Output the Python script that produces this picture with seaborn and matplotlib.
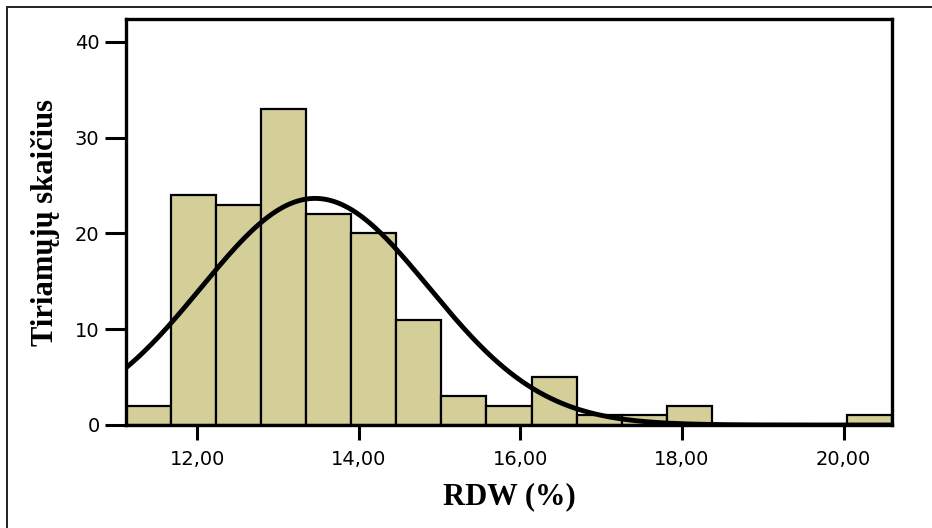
import numpy as np
import pandas as pd
import matplotlib
matplotlib.use("Agg")
import matplotlib.pyplot as plt
from matplotlib.lines import Line2D
import seaborn as sns

# Histogram of RDW (%) values: counts per bin
bin_counts = [2, 24, 23, 33, 22, 20, 11, 3, 2, 5, 1, 1, 2, 0, 0, 0, 1]
rdw_min = 11.12
rdw_max = 20.60

# Fitted normal distribution parameters
rdw_mean = 13.46
rdw_sd = 1.41

x_ticks = [12, 14, 16, 18, 20]
x_tick_labels = ["12,00", "14,00", "16,00", "18,00", "20,00"]
y_ticks = [0, 10, 20, 30, 40]

x_label = "RDW (%)"
y_label = "Tiriamųjų skaičius"

sns.set_theme(style="white")
plt.rcParams["font.family"] = ["DejaVu Sans"]
plt.rcParams["text.color"] = "black"
plt.rcParams["axes.labelcolor"] = "black"
plt.rcParams["xtick.color"] = "black"
plt.rcParams["ytick.color"] = "black"

edges = np.linspace(rdw_min, rdw_max, len(bin_counts) + 1)
centers = (edges[:-1] + edges[1:]) / 2
bin_width = edges[1] - edges[0]
hist_df = pd.DataFrame({"rdw": centers, "count": bin_counts})

fig = plt.figure(figsize=(9.32, 5.28), dpi=100)
ax = fig.add_axes([126 / 932, 1 - 425 / 528, (892 - 126) / 932, (425 - 19) / 528])

sns.histplot(data=hist_df, x="rdw", weights="count", bins=edges.tolist(), ax=ax,
             color="#d4cf98", alpha=1.0, edgecolor="black", linewidth=1.6)

# Normal curve scaled to the histogram counts
n_total = sum(bin_counts)
xs = np.linspace(rdw_min, rdw_max, 400)
ys = n_total * bin_width / (rdw_sd * np.sqrt(2 * np.pi)) * np.exp(-0.5 * ((xs - rdw_mean) / rdw_sd) ** 2)
sns.lineplot(x=xs, y=ys, ax=ax, color="black", linewidth=3.5)

ax.set_xlim(rdw_min, rdw_max)
ax.set_ylim(0, 42.4)

ax.set_xticks(x_ticks)
ax.set_xticklabels(x_tick_labels)
ax.set_yticks(y_ticks)

ax.tick_params(axis="x", direction="out", length=11, width=2.2, color="black",
               labelsize=14, pad=7, labelcolor="black", bottom=True)
ax.tick_params(axis="y", direction="out", length=15, width=2.2, color="black",
               labelsize=14, pad=4, labelcolor="black", left=True)

for side in ["left", "right", "top", "bottom"]:
    ax.spines[side].set_visible(True)
    ax.spines[side].set_color("black")
    ax.spines[side].set_linewidth(2.4)

ax.set_xlabel(x_label, fontsize=22, fontweight="bold", color="black",
              family=["Liberation Serif", "DejaVu Serif"])
ax.set_ylabel(y_label, fontsize=22, fontweight="bold", color="black",
              family=["Liberation Serif", "DejaVu Serif"])
ax.xaxis.label.set_va("center")
ax.yaxis.label.set_va("center")
ax.xaxis.set_label_coords(0.5, -0.177)
ax.yaxis.set_label_coords(-0.105, 0.5)

# Thin frame along the top and left of the figure
fig.add_artist(Line2D([7 / 932, 1.0], [1 - 7 / 528, 1 - 7 / 528], transform=fig.transFigure,
                      color="#222222", linewidth=1.4))
fig.add_artist(Line2D([7 / 932, 7 / 932], [0.0, 1 - 7 / 528], transform=fig.transFigure,
                      color="#222222", linewidth=1.4))

fig.savefig("out.png", dpi=100, facecolor="white")
